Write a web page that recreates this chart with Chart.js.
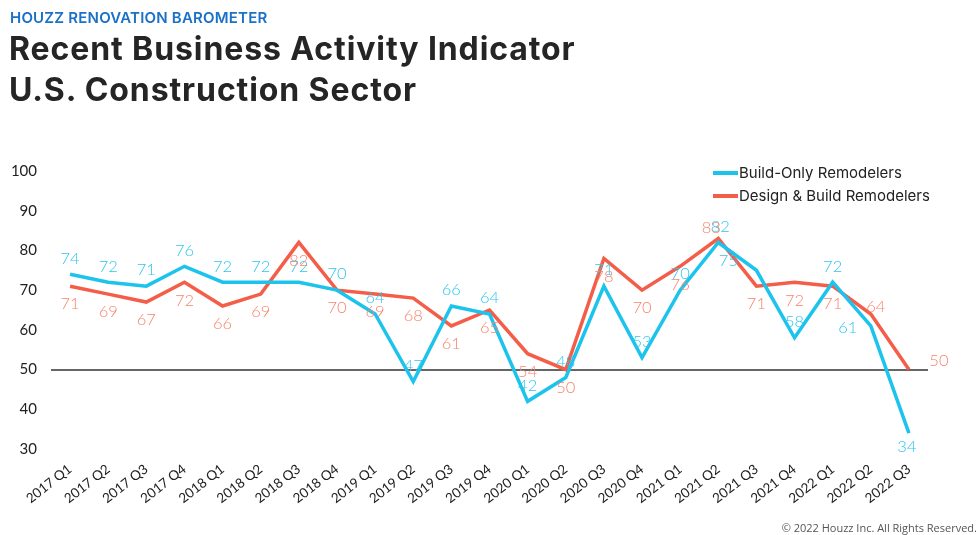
<!DOCTYPE html>
<html>
<head>
<meta charset="utf-8">
<script src="https://cdn.jsdelivr.net/npm/chart.js@4.4.0/dist/chart.umd.min.js"></script>
<style>
  body { margin:0; background:#fff; font-family: Lato, "Open Sans", sans-serif; }
  #wrap { position:relative; width:980px; height:535px; overflow:hidden; }
  #chartBox { position:absolute; left:0; top:0; width:980px; height:535px; }
  .kicker { position:absolute; left:10px; top:8px; font-size:15px; font-weight:600; color:#1b70c8; letter-spacing:0.2px; font-family:Inter, sans-serif; }
  .title { position:absolute; left:9px; top:28px; font-size:32px; line-height:41px; font-weight:700; color:#252525; letter-spacing:0.9px; font-family:Inter, sans-serif; }
  .legend { position:absolute; left:713px; top:161px; font-size:15px; color:#222; font-family:Inter, sans-serif; }
  .legend div { height:23px; display:flex; align-items:center; }
  .legend span.sw { display:inline-block; width:25px; height:4px; margin-right:1px; }
  .foot { position:absolute; right:3px; bottom:0px; font-size:11px; color:#555; font-family:"Open Sans", sans-serif; }
</style>
</head>
<body>
<div id="wrap">
  <div id="chartBox"><canvas id="chart"></canvas></div>
  <div class="kicker">HOUZZ RENOVATION BAROMETER</div>
  <div class="title">Recent Business Activity Indicator<br>U.S. Construction Sector</div>
  <div class="legend">
    <div><span class="sw" style="background:#1cc3ec"></span>Build-Only Remodelers</div>
    <div><span class="sw" style="background:#f45d48"></span>Design &amp; Build Remodelers</div>
  </div>
  <div class="foot">© 2022 Houzz Inc. All Rights Reserved.</div>
</div>
<script>
// 데이터
const quarters = ["2017 Q1","2017 Q2","2017 Q3","2017 Q4","2018 Q1","2018 Q2","2018 Q3","2018 Q4",
  "2019 Q1","2019 Q2","2019 Q3","2019 Q4","2020 Q1","2020 Q2","2020 Q3","2020 Q4",
  "2021 Q1","2021 Q2","2021 Q3","2021 Q4","2022 Q1","2022 Q2","2022 Q3"]
const buildOnly = [74,72,71,76,72,72,72,70,64,47,66,64,42,48,71,53,70,82,75,58,72,61,34]
const designBuild = [71,69,67,72,66,69,82,70,69,68,61,65,54,50,78,70,76,83,71,72,71,64,50]
const yTicks = [30,40,50,60,70,80,90,100]

const BLUE = "#1cc3ec", ORANGE = "#f45d48"
const BLUE_TXT = "#2cc6f0", ORANGE_TXT = "#f7846c"

// 라벨 위치 (기본: 파랑 위, 주황 아래) + 예외
const labelShift = [
  {def:[0,-16], ex:{17:[2,-16], 18:[-28,-10], 21:[-23,2], 22:[-2,14]}},
  {def:[0,18],  ex:{17:[-7,-11], 21:[5,-7], 22:[30,-9]}}
]
const labelColors = [BLUE_TXT, ORANGE_TXT]

const dataLabels = {
  id:'dataLabels',
  afterDatasetsDraw(chart){
    const ctx = chart.ctx
    ctx.save()
    ctx.font = "300 16.5px Lato, sans-serif"
    ctx.textAlign = "center"
    ctx.textBaseline = "middle"
    chart.data.datasets.forEach((ds, di)=>{
      const meta = chart.getDatasetMeta(di)
      ctx.fillStyle = labelColors[di]
      meta.data.forEach((pt, i)=>{
        const s = labelShift[di].ex[i] || labelShift[di].def
        ctx.fillText(ds.data[i], pt.x + s[0], pt.y + s[1])
      })
    })
    ctx.restore()
  }
}

new Chart(document.getElementById("chart"), {
  type:'line',
  data:{
    labels: quarters,
    datasets:[
      {label:"Build-Only Remodelers", data: buildOnly, borderColor: BLUE, borderWidth:3.5, pointRadius:0, tension:0},
      {label:"Design & Build Remodelers", data: designBuild, borderColor: ORANGE, borderWidth:3.5, pointRadius:0, tension:0}
    ]
  },
  options:{
    responsive:true,
    maintainAspectRatio:false,
    animation:false,
    layout:{ padding:{ top:171, bottom:26, left:0, right:52 } },
    plugins:{ legend:{display:false}, tooltip:{enabled:false} },
    scales:{
      x:{
        offset:true,
        grid:{display:false},
        border:{display:false},
        ticks:{ color:"#222", font:{family:"Lato", size:13.5}, minRotation:38, maxRotation:38, autoSkip:false, padding:4 },
        afterFit(s){ s.height = 60 }
      },
      y:{
        min:30, max:100,
        afterBuildTicks(s){ s.ticks = yTicks.map(v=>({value:v})) },
        grid:{ drawTicks:false, lineWidth:2, color: c => c.tick && c.tick.value === 50 ? "#666" : "rgba(0,0,0,0)" },
        border:{display:false},
        ticks:{ color:"#222", font:{family:"Lato", size:15}, padding:14 },
        afterFit(s){ s.width = 51 }
      }
    }
  },
  plugins:[dataLabels]
})
</script>
</body>
</html>
